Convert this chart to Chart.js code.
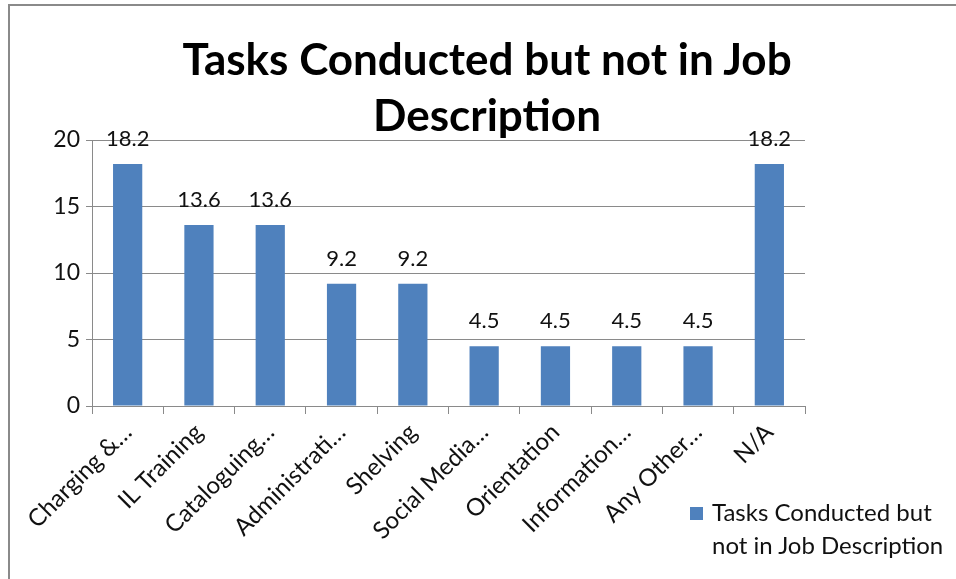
<!DOCTYPE html>
<html>
<head>
<meta charset="utf-8">
<script src="https://cdn.jsdelivr.net/npm/chart.js@4"></script>
<style>
  html, body { margin: 0; padding: 0; background: #fff; }
  body { width: 956px; height: 579px; position: relative; overflow: hidden; font-family: Lato, "Open Sans", sans-serif; }
  #frame { position: absolute; left: 8px; top: 4px; width: 1000px; height: 700px; border-left: 2px solid #8a8a8a; border-top: 2px solid #8a8a8a; }
  #chart { position: absolute; left: 0; top: 0; }
  #title { position: absolute; left: 8px; width: 958px; top: 30px; text-align: center; font-weight: bold; font-size: 44px; line-height: 56px; color: #000; }
  #legend { position: absolute; left: 690px; top: 495px; font-size: 24px; line-height: 33px; color: #111; }
  #legend .box { position: absolute; left: 0; top: 12px; width: 13px; height: 13px; background: #4F81BD; }
  #legend .txt { margin-left: 22px; }
</style>
</head>
<body>
<div id="frame"></div>
<canvas id="chart" width="956" height="579"></canvas>
<div id="title">Tasks Conducted but not in Job<br>Description</div>
<div id="legend"><div class="box"></div><div class="txt" id="legend-text"></div></div>
<script>
const categories = [
  "Charging &…",
  "IL Training",
  "Cataloguing…",
  "Administrati…",
  "Shelving",
  "Social Media…",
  "Orientation",
  "Information…",
  "Any Other…",
  "N/A",
];
const seriesName = "Tasks Conducted but not in Job Description";
const values = [18.2, 13.6, 13.6, 9.2, 9.2, 4.5, 4.5, 4.5, 4.5, 18.2];
const yTicks = [0, 5, 10, 15, 20];

document.getElementById("legend-text").innerHTML = "Tasks Conducted but<br>not in Job Description";

const gridColor = "#8a8a8a";
const fontFamily = "Lato, 'Open Sans', sans-serif";

// values above the bars
const valueLabels = {
  id: "valueLabels",
  afterDatasetsDraw(chart) {
    const ctx = chart.ctx;
    const meta = chart.getDatasetMeta(0);
    ctx.save();
    ctx.font = "22px " + fontFamily;
    ctx.fillStyle = "#111";
    ctx.textAlign = "center";
    ctx.textBaseline = "middle";
    meta.data.forEach((bar, i) => {
      ctx.fillText(values[i].toFixed(1), bar.x, bar.y - 25);
    });
    ctx.restore();
  },
};

const ctx = document.getElementById("chart").getContext("2d");
new Chart(ctx, {
  type: "bar",
  data: {
    labels: categories,
    datasets: [
      {
        label: seriesName,
        data: values,
        backgroundColor: "#4F81BD",
        borderWidth: 0,
        barPercentage: 0.82,
        categoryPercentage: 0.5,
      },
    ],
  },
  options: {
    responsive: false,
    animation: false,
    devicePixelRatio: 1,
    layout: { padding: { left: 10, right: 151, top: 140, bottom: 0 } },
    plugins: {
      legend: { display: false },
      title: { display: false },
      tooltip: { enabled: false },
    },
    scales: {
      x: {
        afterFit: (scale) => { scale.height = 173; },
        grid: {
          display: true,
          drawOnChartArea: false,
          drawTicks: true,
          tickLength: 8,
          color: gridColor,
          offset: true,
        },
        border: { display: true, color: gridColor, width: 1 },
        ticks: {
          color: "#111",
          font: { family: fontFamily, size: 24 },
          minRotation: 45,
          maxRotation: 45,
          autoSkip: false,
          padding: 4,
        },
      },
      y: {
        min: 0,
        max: 20,
        afterFit: (scale) => { scale.width = 82; },
        afterBuildTicks: (scale) => { scale.ticks = yTicks.map((v) => ({ value: v })); },
        grid: { color: gridColor, tickLength: 6, drawTicks: true },
        border: { display: true, color: gridColor, width: 1 },
        ticks: { color: "#111", font: { family: fontFamily, size: 23 }, padding: 6 },
      },
    },
  },
  plugins: [valueLabels],
});
</script>
</body>
</html>
